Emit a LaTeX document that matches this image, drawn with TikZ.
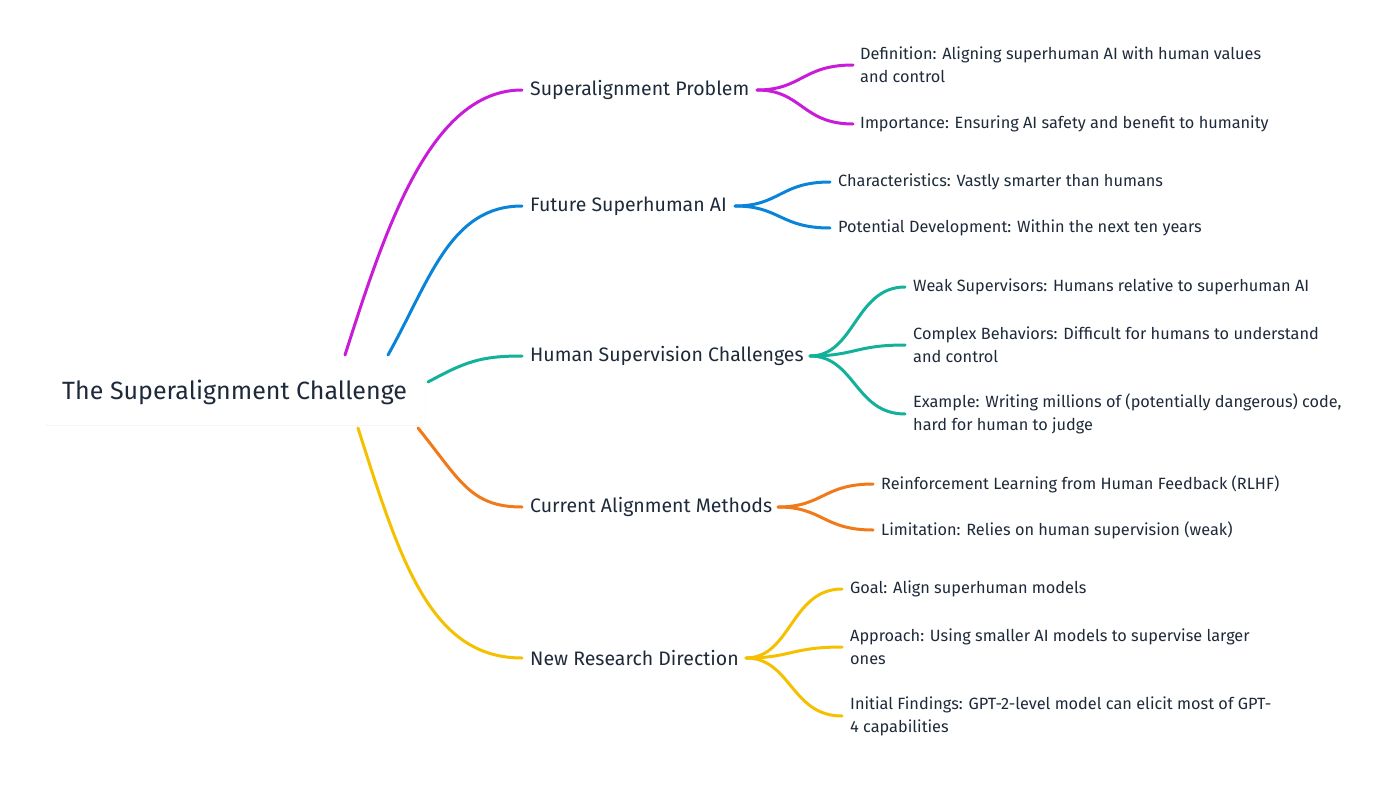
\documentclass[tikz,border=0pt]{standalone}
\usepackage{fontspec}
\setmainfont{Fira Sans}
\usetikzlibrary{shadows}
\definecolor{cmag}{HTML}{C81CD8}
\definecolor{cblue}{HTML}{0A84D8}
\definecolor{cteal}{HTML}{13B09A}
\definecolor{corange}{HTML}{F07A1A}
\definecolor{cyellow}{HTML}{F5C000}
\definecolor{ctext}{HTML}{1E2A3A}
\begin{document}
\begin{tikzpicture}[x=1pt,y=-1pt,
  br/.style={line width=3pt,line cap=round},
  mainlbl/.style={anchor=west,inner sep=0pt,text=ctext,font=\fontsize{19.5}{24}\selectfont},
  leaf/.style={anchor=west,inner sep=0pt,text=ctext,align=left,font=\fontsize{16.3}{23}\selectfont},
  pt/.style={inner sep=0pt,minimum size=0pt}]
\useasboundingbox (0,0) rectangle (1400,803);
% root
\node[pt,fill=white,drop shadow={opacity=0.08,shadow xshift=0pt,shadow yshift=-1pt},minimum width=380pt,minimum height=66pt,rounded corners=4pt] (root) at (235,392) {};
\node[mainlbl,font=\fontsize{25}{30}\selectfont] (roott) at (62,392) {The Superalignment Challenge};
% root branch points
\coordinate (r1) at (345,355);
\coordinate (r2) at (388,355);
\coordinate (r3) at (428,382);
\coordinate (r4) at (418,428);
\coordinate (r5) at (358,428);
% main labels
\node[mainlbl] (m1) at (530,90) {Superalignment Problem};
\node[mainlbl] (m2) at (530,206) {Future Superhuman AI};
\node[mainlbl] (m3) at (530,356) {Human Supervision Challenges};
\node[mainlbl] (m4) at (530,507) {Current Alignment Methods};
\node[mainlbl] (m5) at (530,658) {New Research Direction};
\draw[br,cmag] (r1) .. controls (385,230) and (430,90) .. (522,90);
\draw[br,cblue] (r2) .. controls (430,280) and (450,206) .. (522,206);
\draw[br,cteal] (r3) .. controls (465,362) and (480,356) .. (522,356);
\draw[br,corange] (r4) .. controls (460,480) and (470,507) .. (522,507);
\draw[br,cyellow] (r5) .. controls (400,560) and (430,658) .. (522,658);
% sub branches
\newcommand{\sub}[5]{\draw[br,#1] (#2,#3) .. controls ({#2+45},#3) and ({#2+45},#5) .. (#4,#5);}
% 1
\node[leaf] (l11) at (860,65) {Definition: Aligning superhuman AI with human values\\and control};
\node[leaf] (l12) at (860,124) {Importance: Ensuring AI safety and benefit to humanity};
\sub{cmag}{757}{90}{853}{65}\sub{cmag}{757}{90}{853}{124}
% 2
\node[leaf] (l21) at (838,182) {Characteristics: Vastly smarter than humans};
\node[leaf] (l22) at (838,228) {Potential Development: Within the next ten years};
\sub{cblue}{735}{206}{830}{182}\sub{cblue}{735}{206}{830}{228}
% 3
\node[leaf] (l31) at (913,287) {Weak Supervisors: Humans relative to superhuman AI};
\node[leaf] (l32) at (913,345) {Complex Behaviors: Difficult for humans to understand\\and control};
\node[leaf] (l33) at (913,414) {Example: Writing millions of (potentially dangerous) code,\\hard for human to judge};
\sub{cteal}{810}{356}{905}{287}\sub{cteal}{810}{356}{905}{345}\sub{cteal}{810}{356}{905}{414}
% 4
\node[leaf] (l41) at (881,484) {Reinforcement Learning from Human Feedback (RLHF)};
\node[leaf] (l42) at (881,530) {Limitation: Relies on human supervision (weak)};
\sub{corange}{778}{507}{873}{484}\sub{corange}{778}{507}{873}{530}
% 5
\node[leaf] (l51) at (850,589) {Goal: Align superhuman models};
\node[leaf] (l52) at (850,647) {Approach: Using smaller AI models to supervise larger\\ones};
\node[leaf] (l53) at (850,716) {Initial Findings: GPT-2-level model can elicit most of GPT-\\4 capabilities};
\sub{cyellow}{746}{658}{842}{589}\sub{cyellow}{746}{658}{842}{647}\sub{cyellow}{746}{658}{842}{716}
\end{tikzpicture}
\end{document}
